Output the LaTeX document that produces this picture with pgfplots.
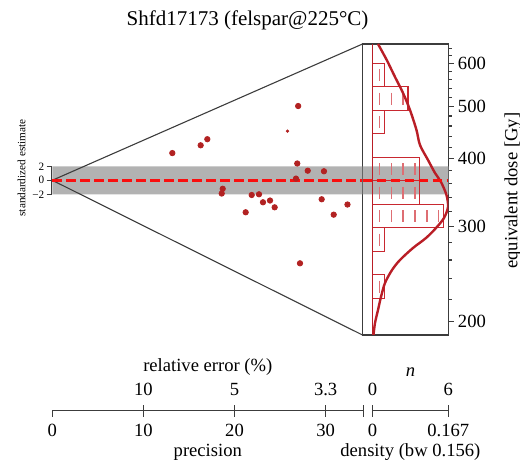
\documentclass[border=0pt]{standalone}
\usepackage{fontspec}
\setmainfont{Liberation Serif}
\usepackage{pgfplots}
\pgfplotsset{compat=1.18}
\definecolor{ptred}{RGB}{178,34,34}
\definecolor{barred}{RGB}{200,40,48}
\definecolor{dashred}{RGB}{222,110,115}
\definecolor{kdered}{RGB}{185,30,38}
\definecolor{bandgray}{RGB}{178,178,178}
\definecolor{axgray}{RGB}{60,60,60}
\definecolor{cred}{RGB}{250,15,15}
\newcommand{\fmain}{\fontsize{9.3}{11}\selectfont}
\newcommand{\fsmall}{\fontsize{5.6}{7}\selectfont}

\pgfplotstableread{
prec z
26.98 10.61
17.01 5.87
16.28 5.00
13.17 3.89
26.88 2.40
28.03 1.37
29.81 1.29
26.74 0.24
18.70 -1.21
18.59 -1.89
21.88 -2.10
22.68 -2.00
23.12 -3.14
23.89 -2.89
24.40 -3.86
21.22 -4.57
29.56 -2.71
30.88 -4.91
32.39 -3.46
27.18 -11.86
}\points

\pgfplotstableread{
n D
1 221.0
0 244.2
1 269.9
6 298.3
4 329.7
4 364.3
0 402.6
1 445.0
3 491.8
1 543.5
0 600.7
}\hist

\pgfplotstableread{
n D
0.6 232.3
0.6 283.7
0.6 313.6
1.6 313.6
2.6 313.6
3.6 313.6
4.6 313.6
5.6 313.6
0.6 346.6
1.6 346.6
2.6 346.6
3.6 346.6
0.6 383.0
1.6 383.0
2.6 383.0
3.6 383.0
0.6 467.8
0.6 517.0
1.6 517.0
2.6 517.0
0.6 571.4
}\dashes

\pgfplotstableread{
d D
0.0022 189.0
0.0055 198.9
0.0121 210.2
0.0187 222.2
0.0275 235.8
0.0430 249.2
0.0606 260.1
0.0892 273.7
0.1179 285.6
0.1399 298.0
0.1575 311.0
0.1663 325.9
0.1630 343.0
0.1509 362.5
0.1377 376.7
0.1223 398.1
0.1046 424.3
0.0969 452.3
0.0826 492.5
0.0672 529.5
0.0496 566.8
0.0313 609.4
0.0121 652.3
}\kde

\begin{document}
\begin{tikzpicture}
\path[use as bounding box] (0,0) rectangle (260pt,231pt);

% main radial part
\begin{axis}[scale only axis, width=155.1pt, height=145.5pt,
  at={(26.15pt,63.5pt)}, anchor=south west,
  xmin=0, xmax=34.04, ymin=-22.1, ymax=19.47, hide axis, clip=false]
\addplot[fill=bandgray, draw=none] coordinates {(0,-2) (34.04,-2) (34.04,2) (0,2) (0,-2)};
\addplot[axgray, line width=0.55pt] coordinates {(34.04,19.47) (0,0) (34.04,-22.1)};
\addplot[cred, line width=1.6pt, dash pattern=on 4.7pt off 2.3pt] coordinates {(0,0) (34.04,0)};
\addplot[only marks, mark=*, mark size=1.35pt, ptred] table[x=prec, y=z] {\points};
\addplot[only marks, mark=*, mark size=0.6pt, ptred] coordinates {(25.81,7.03)};
\end{axis}

% z bracket
\begin{axis}[scale only axis, width=1pt, height=14pt,
  at={(25.85pt,133.85pt)}, anchor=south west,
  xmin=0, xmax=1, ymin=-2, ymax=2, axis y line*=left, hide x axis,
  ytick={-2,0,2}, yticklabels={−2,0,2}, tick align=outside, major tick length=2.5pt,
  tick style={axgray, line width=0.55pt}, axis line style={axgray, line width=0.55pt},
  yticklabel style={font=\fsmall, inner sep=1pt}]
\addplot[draw=none] coordinates {(0,0)};
\end{axis}

% histogram box
\begin{axis}[scale only axis, width=42.9pt, height=145.5pt,
  at={(181.25pt,63.5pt)}, anchor=south west,
  xmin=-0.847, xmax=6.424, ymode=log, ymin=189.0, ymax=652.3,
  xtick=\empty, ytick={200,300,400,500,600}, yticklabels={200,300,400,500,600},
  minor ytick={220,240,260,280,320,340,360,380,420,440,460,480,520,540,560,580,620,640},
  ytick pos=right, yticklabel pos=right, tick align=outside,
  major tick length=2.8pt, minor tick length=1.6pt,
  axis line style={axgray, line width=0.55pt}, tick style={axgray, line width=0.55pt},
  yticklabel style={font=\fmain, xshift=-1.5pt}]
\addplot[fill=bandgray, draw=none] coordinates {(-0.847,344.0) (6.424,344.0) (6.424,387.6) (-0.847,387.6) (-0.847,344.0)};
\addplot[xbar interval, draw=barred, fill=none, line width=0.6pt] table[x=n, y=D] {\hist};
\addplot[only marks, mark=|, mark size=3pt, mark options={dashred, line width=0.8pt}] table[x=n, y=D] {\dashes};
\end{axis}

% density
\begin{axis}[scale only axis, width=42.9pt, height=145.5pt,
  at={(181.25pt,63.5pt)}, anchor=south west,
  xmin=-0.02203, xmax=0.167, ymode=log, ymin=189.0, ymax=652.3, hide axis]
\addplot[kdered, line width=0.8pt] coordinates {(0,189.0) (0,652.3)};
\addplot[kdered, line width=1.2pt, smooth, tension=0.5] table[x=d, y=D] {\kde};
\addplot[cred, line width=1.6pt, dash pattern=on 4.7pt off 2.3pt] coordinates {(-0.02203,365.1) (0.167,365.1)};
\end{axis}

% precision axis (bottom)
\begin{axis}[scale only axis, width=155.5pt, height=1pt,
  at={(26.15pt,25.65pt)}, anchor=south west,
  xmin=0, xmax=34.13, ymin=0, ymax=1, hide y axis, axis x line*=bottom,
  xtick={10,20,30,34.13}, xticklabels={10,20,30,{}},
  extra x ticks={0}, extra x tick labels={0},
  extra x tick style={tick align=outside, major tick length=3.1pt},
  tick align=center, major tick length=6.2pt,
  axis line style={axgray, line width=0.55pt}, tick style={axgray, line width=0.55pt},
  xticklabel style={font=\fmain, anchor=base, yshift=-10pt},
  xlabel={precision}, xlabel style={font=\fmain, at={(axis description cs:0.5,0)}, anchor=base, yshift=-22.65pt}]
\addplot[draw=none] coordinates {(0,0)};
\end{axis}

% relative error axis (top)
\begin{axis}[scale only axis, width=155.5pt, height=1pt,
  at={(26.15pt,25.65pt)}, anchor=north west,
  xmin=0, xmax=34.13, ymin=0, ymax=1, hide y axis, axis x line*=top,
  xtick={10,20,30}, xticklabels={10,5,3.3}, major tick length=0pt,
  axis line style={draw=none}, tick style={draw=none},
  xticklabel style={font=\fmain, anchor=base, yshift=7.85pt},
  xlabel={relative error (\%)}, xlabel style={font=\fmain, at={(axis description cs:0.5,1)}, anchor=base, yshift=19.5pt}]
\addplot[draw=none] coordinates {(1,0)};
\end{axis}

% density axis (bottom)
\begin{axis}[scale only axis, width=37.9pt, height=1pt,
  at={(186.25pt,25.65pt)}, anchor=south west,
  xmin=0, xmax=0.167, ymin=0, ymax=1, hide y axis, axis x line*=bottom,
  xtick={0,0.167}, xticklabels={0,0.167},
  tick align=center, major tick length=6.2pt,
  axis line style={axgray, line width=0.55pt}, tick style={axgray, line width=0.55pt},
  xticklabel style={font=\fmain, anchor=base, yshift=-10pt},
  xlabel={density (bw 0.156)}, xlabel style={font=\fmain, at={(axis description cs:0.5,0)}, anchor=base, yshift=-22.65pt}]
\addplot[draw=none] coordinates {(0,0)};
\end{axis}

% n axis (top)
\begin{axis}[scale only axis, width=37.9pt, height=1pt,
  at={(186.25pt,25.65pt)}, anchor=north west,
  xmin=0, xmax=0.167, ymin=0, ymax=1, hide y axis, axis x line*=top,
  xtick={0,0.167}, xticklabels={0,6}, major tick length=0pt,
  axis line style={draw=none}, tick style={draw=none},
  xticklabel style={font=\fmain, anchor=base, yshift=7.85pt},
  xlabel={\textit{n}}, xlabel style={font=\fmain, at={(axis description cs:0.5,1)}, anchor=base, yshift=17pt}]
\addplot[draw=none] coordinates {(0.1,0)};
\end{axis}

\node[font=\fontsize{10.5}{12}\selectfont, anchor=base] at (123.75pt,218.5pt) {Shfd17173 (felspar@225°C)};
\node[font=\fsmall, rotate=90] at (10.75pt,147pt) {standardized estimate};
\node[font=\fmain, rotate=90] at (256.5pt,135.6pt) {equivalent dose [Gy]};
\end{tikzpicture}
\end{document}
